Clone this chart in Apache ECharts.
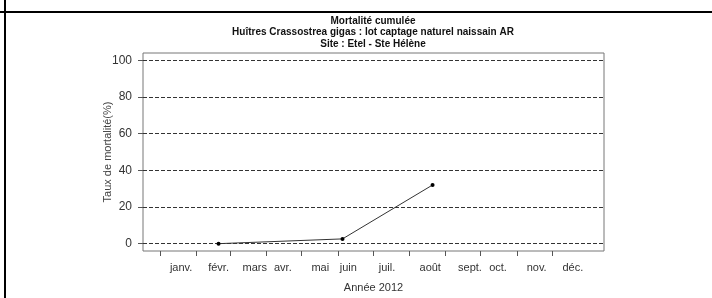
<!DOCTYPE html>
<html>
<head>
<meta charset="utf-8">
<script src="https://cdn.jsdelivr.net/npm/echarts@6/dist/echarts.min.js"></script>
<style>
	html, body { margin: 0; padding: 0; background: #fff; }
	#chart { width: 712px; height: 298px; }
</style>
</head>
<body>
<div id="chart"></div>
<script>
// donnees
var months = ['janv.', 'févr.', 'mars', 'avr.', 'mai', 'juin', 'juil.', 'août', 'sept.', 'oct.', 'nov.', 'déc.'];
var monthStarts = ['2012-01-01', '2012-02-01', '2012-03-01', '2012-04-01', '2012-05-01', '2012-06-01',
	'2012-07-01', '2012-08-01', '2012-09-01', '2012-10-01', '2012-11-01', '2012-12-01'];
var labelDates = ['2012-01-19', '2012-02-20', '2012-03-22', '2012-04-15', '2012-05-17', '2012-06-10',
	'2012-07-13', '2012-08-19', '2012-09-22', '2012-10-16', '2012-11-18', '2012-12-19'];
var sampleDates = ['2012-02-20', '2012-06-05', '2012-08-21'];
var mortality = [0, 2.6, 32];
var yTicks = [0, 20, 40, 60, 80, 100];

var yearStart = Date.parse('2012-01-01');
function dayOf(d) {
	return (Date.parse(d) - yearStart) / 86400000;
}
var tickDays = monthStarts.map(dayOf);
var labelDays = labelDates.map(dayOf);
var points = sampleDates.map(function (d, i) { return [dayOf(d), mortality[i]]; });

// R etend les axes de 4%
var xRange = 365;
var yRange = 100;

var myChart = echarts.init(document.getElementById('chart'));
var option = {
	animation: false,
	title: {
		text: 'Mortalité cumulée\nHuîtres Crassostrea gigas : lot captage naturel naissain AR\nSite : Etel - Ste Hélène',
		left: 368,
		top: 10,
		textAlign: 'center',
		textStyle: {
			fontFamily: 'Liberation Sans',
			fontSize: 10,
			fontWeight: 'bold',
			color: '#111',
			lineHeight: 11.5
		}
	},
	graphic: [{
		type: 'rect',
		shape: { x: 0, y: 11, width: 712, height: 2 },
		style: { fill: '#000' }
	}, {
		type: 'rect',
		shape: { x: 4, y: 0, width: 2, height: 298 },
		style: { fill: '#000' }
	}],
	grid: {
		left: 143,
		right: 108,
		top: 53,
		bottom: 47,
		show: true,
		borderColor: '#777',
		borderWidth: 1,
		containLabel: false,
		outerBoundsMode: 'none'
	},
	xAxis: {
		type: 'value',
		min: -0.04 * xRange,
		max: xRange * 1.04,
		name: 'Année 2012',
		nameLocation: 'middle',
		nameGap: 31,
		nameTextStyle: { fontFamily: 'Liberation Sans', fontSize: 11, color: '#333' },
		axisLine: { show: false, onZero: false },
		splitLine: { show: false },
		axisTick: {
			show: true,
			customValues: tickDays,
			length: 5,
			lineStyle: { color: '#555' }
		},
		axisLabel: {
			customValues: labelDays,
			margin: 11,
			fontFamily: 'Liberation Sans',
			fontSize: 11,
			color: '#333',
			formatter: function (v) {
				var i = labelDays.indexOf(v);
				return i >= 0 ? months[i] : '';
			}
		}
	},
	yAxis: {
		type: 'value',
		min: -0.04 * yRange,
		max: yRange * 1.04,
		name: 'Taux de mortalité(%)',
		nameLocation: 'middle',
		nameGap: 30,
		nameMoveOverlap: false,
		nameTextStyle: { fontFamily: 'Liberation Sans', fontSize: 11, color: '#444' },
		axisLine: { show: false, onZero: false },
		axisTick: {
			show: true,
			customValues: yTicks,
			length: 5,
			lineStyle: { color: '#555' }
		},
		axisLabel: {
			customValues: yTicks,
			margin: 11,
			fontFamily: 'Liberation Sans',
			fontSize: 12,
			color: '#333'
		},
		splitLine: {
			show: true,
			lineStyle: { color: '#333', type: [4, 2], width: 1 }
		}
	},
	series: [{
		name: 'Mortalité cumulée',
		type: 'line',
		data: points,
		symbol: 'circle',
		symbolSize: 4,
		itemStyle: { color: '#000' },
		lineStyle: { color: '#333', width: 1 }
	}]
};
myChart.setOption(option);
</script>
</body>
</html>
